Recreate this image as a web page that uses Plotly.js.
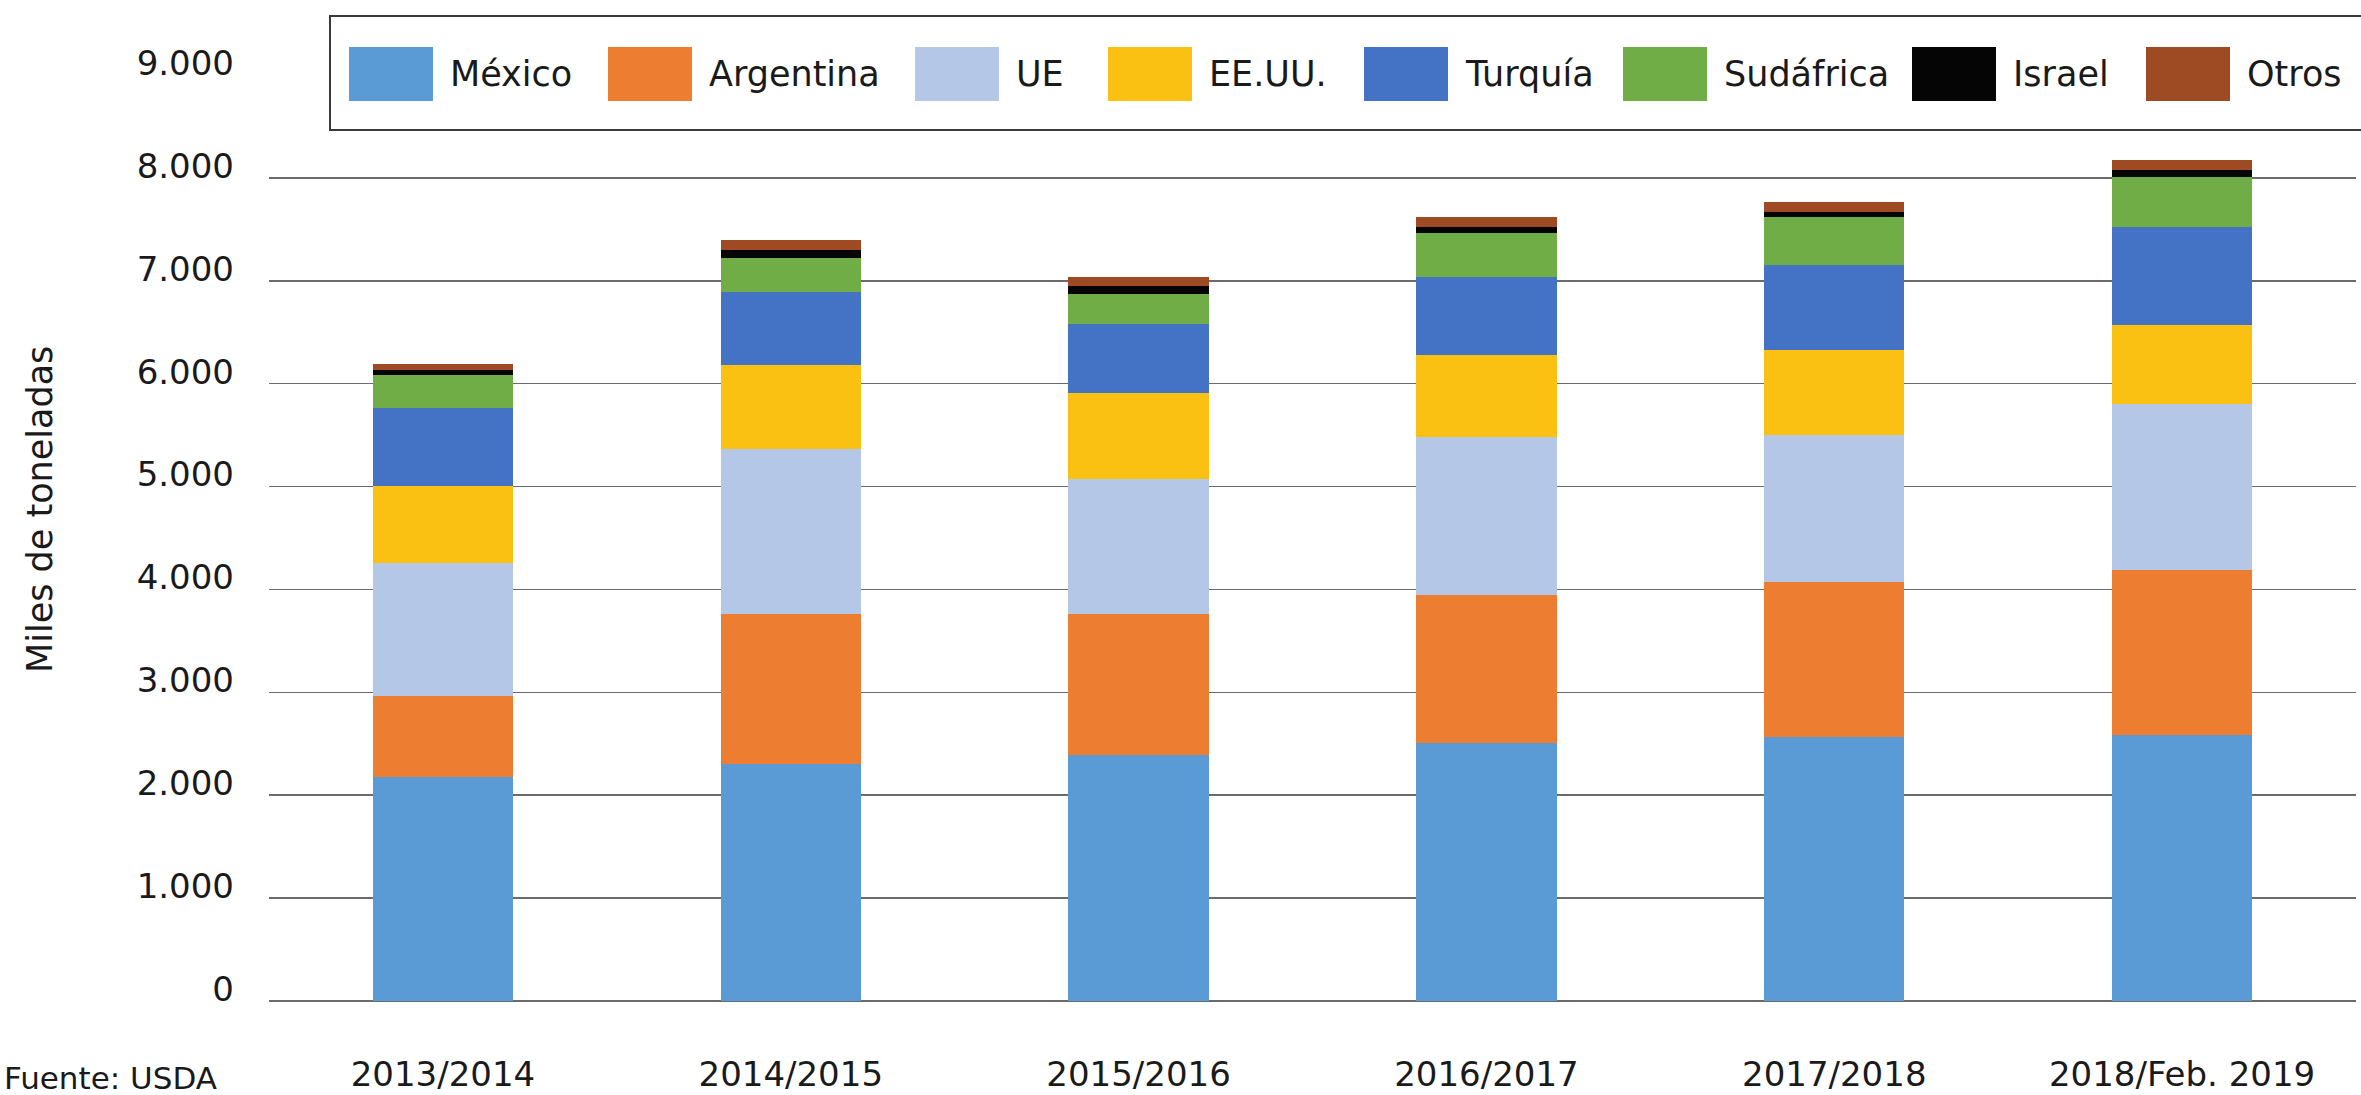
<!DOCTYPE html>
<html>
<head>
<meta charset="utf-8">
<script src="https://cdn.plot.ly/plotly-3.0.1.min.js"></script>
<style>
  html, body { margin: 0; padding: 0; background: #ffffff; }
  #chart { width: 2361px; height: 1095px; }
</style>
</head>
<body>
<div id="chart"></div>
<script>
// ---- Data (miles de toneladas) ----
const categories = ["2013/2014", "2014/2015", "2015/2016", "2016/2017", "2017/2018", "2018/Feb. 2019"];
const mexico    = [2182, 2308, 2395, 2512, 2564, 2590];
const argentina = [787, 1458, 1371, 1438, 1506, 1597];
const ue        = [1292, 1597, 1305, 1529, 1435, 1619];
const eeuu      = [749, 823, 842, 804, 826, 769];
const turquia   = [758, 709, 671, 758, 826, 952];
const sudafrica = [321, 330, 292, 427, 467, 486];
const israel    = [48, 75, 69, 59, 48, 68];
const otros     = [58, 97, 95, 97, 98, 97];

const seriesNames  = ["México", "Argentina", "UE", "EE.UU.", "Turquía", "Sudáfrica", "Israel", "Otros"];
const seriesValues = [mexico, argentina, ue, eeuu, turquia, sudafrica, israel, otros];
const seriesColors = ["#5B9BD5", "#ED7D31", "#B4C7E7", "#FBC112", "#4472C4", "#70AD47", "#050505", "#9E4A22"];

const yTickVals = [0, 1000, 2000, 3000, 4000, 5000, 6000, 7000, 8000, 9000];
const yTickText = ["0", "1.000", "2.000", "3.000", "4.000", "5.000", "6.000", "7.000", "8.000", "9.000"];

// ---- Layout geometry ----
const W = 2361, H = 1095;
const M = { l: 269, r: 5, t: 75, b: 94 };
const plotW = W - M.l - M.r, plotH = H - M.t - M.b;
const px2x = p => (p - M.l) / plotW;
const px2y = p => (H - M.b - p) / plotH;

const FONT = "DejaVu Sans, Noto Sans, sans-serif";
const TXT = "#1a1a1a";

const traces = seriesNames.map((name, i) => ({
  type: "bar",
  name: name,
  x: categories,
  y: seriesValues[i],
  marker: { color: seriesColors[i], line: { width: 0 } },
  showlegend: false,
  hoverinfo: "x+y+name"
}));

// ---- Custom legend (Excel-style large swatches) ----
const legendSwatchX = [349, 608, 915, 1108, 1364, 1623, 1912, 2146];
const swatchW = 84, swatchTop = 47, swatchBottom = 101, legendTextY = 74, textOffset = 99;

const shapes = [{
  type: "rect", xref: "paper", yref: "paper", layer: "above",
  x0: px2x(330), x1: px2x(2380), y0: px2y(130), y1: px2y(16),
  fillcolor: "#ffffff", line: { color: "#3a3a3a", width: 2 }
}];
const annotations = [];
seriesNames.forEach((name, i) => {
  shapes.push({
    type: "rect", xref: "paper", yref: "paper", layer: "above",
    x0: px2x(legendSwatchX[i]), x1: px2x(legendSwatchX[i] + swatchW),
    y0: px2y(swatchBottom), y1: px2y(swatchTop),
    fillcolor: seriesColors[i], line: { width: 0 }
  });
  annotations.push({
    xref: "paper", yref: "paper", showarrow: false,
    x: px2x(legendSwatchX[i] + textOffset), y: px2y(legendTextY),
    xanchor: "left", yanchor: "middle",
    text: name, font: { family: FONT, size: 35, color: TXT }
  });
});

annotations.push({
  xref: "paper", yref: "paper", showarrow: false,
  x: px2x(40), y: px2y(510), xanchor: "center", yanchor: "middle",
  textangle: -90, text: "Miles de toneladas",
  font: { family: FONT, size: 35, color: TXT }
});
annotations.push({
  xref: "paper", yref: "paper", showarrow: false,
  x: px2x(2), y: px2y(1078), xanchor: "left", yanchor: "middle",
  text: "Fuente: USDA",
  font: { family: FONT, size: 31, color: TXT }
});

const layout = {
  width: W, height: H,
  margin: M,
  paper_bgcolor: "#ffffff",
  plot_bgcolor: "#ffffff",
  barmode: "stack",
  bargap: 0.597,
  showlegend: false,
  font: { family: FONT, size: 34, color: TXT },
  xaxis: {
    type: "category",
    showgrid: false,
    showline: false,
    zeroline: false,
    ticks: "",
    ticklabelstandoff: 50,
    tickfont: { family: FONT, size: 34, color: TXT }
  },
  yaxis: {
    range: [0, 9000],
    tickvals: yTickVals,
    ticktext: yTickText,
    showgrid: true,
    gridcolor: "#6b6b6b",
    gridwidth: 1.6,
    zeroline: true,
    zerolinecolor: "#6b6b6b",
    zerolinewidth: 1.6,
    showline: false,
    ticks: "",
    ticklabelstandoff: 34,
    ticklabelshift: -12,
    tickfont: { family: FONT, size: 34, color: TXT }
  },
  shapes: shapes,
  annotations: annotations
};

Plotly.newPlot("chart", traces, layout, { displayModeBar: false, staticPlot: true });
</script>
</body>
</html>
